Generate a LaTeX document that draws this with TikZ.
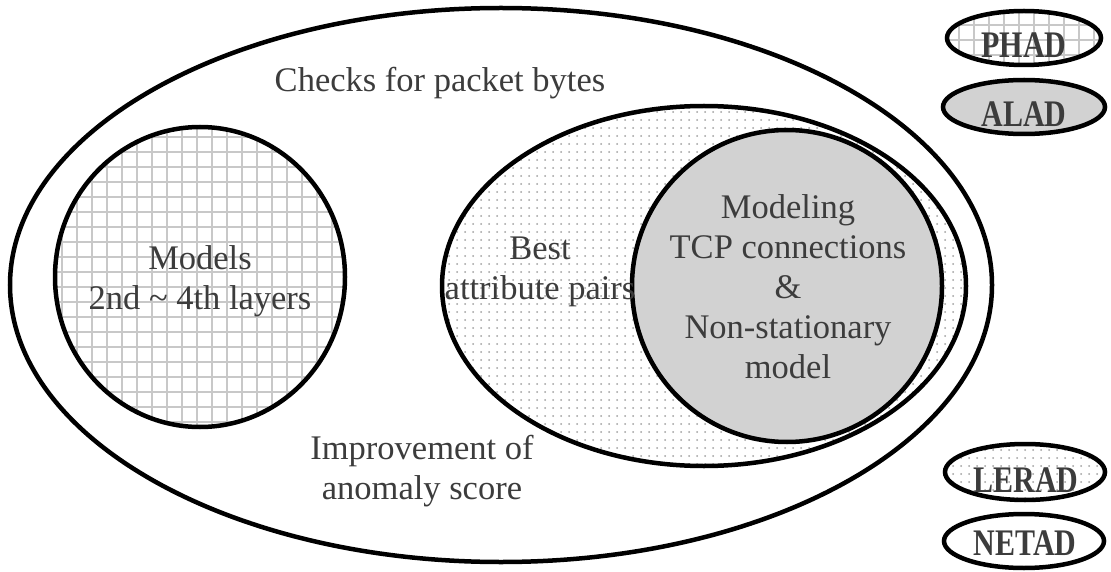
\documentclass[tikz,border=0pt]{standalone}
\usepackage{fontspec}
\setmainfont{Liberation Serif}
\usepackage{graphicx}
\definecolor{txt}{RGB}{60,60,60}
\definecolor{gridc}{RGB}{200,200,200}
\definecolor{dotc}{RGB}{160,160,160}
\definecolor{grayfill}{RGB}{210,210,210}
\begin{document}
\begin{tikzpicture}[x=1pt,y=-1pt,
  ring/.style={draw=black,line width=4.5pt},
  body/.style={text=txt,font=\fontsize{34.5}{40}\selectfont,inner sep=0pt,align=center},
  lab/.style={text=txt,font=\fontsize{30}{36}\selectfont\bfseries,inner sep=0pt,anchor=base},
  gridline/.style={draw=gridc,line width=1.2pt},
  dotmark/.style={fill=dotc}
]
\useasboundingbox (0,0) rectangle (1111,572);

% ---------- outer ellipse (NETAD) ----------
\fill[white] (501,285) ellipse [x radius=491pt, y radius=277pt];

% ---------- grid circle (PHAD) ----------
\begin{scope}
  \clip (200,277) ellipse [x radius=145pt, y radius=150pt];
  \foreach \x in {47,62,...,362} \draw[gridline] (\x,120) -- (\x,435);
  \foreach \y in {122,137,...,437} \draw[gridline] (50,\y) -- (350,\y);
\end{scope}

% ---------- dotted ellipse (LERAD) ----------
\begin{scope}
  \clip (704,286) ellipse [x radius=262pt, y radius=180pt];
  \foreach \x in {441,449,...,969} \foreach \y in {104,112,...,470} \fill[dotmark] (\x,\y) circle [radius=1pt];
\end{scope}

% ---------- gray circle (ALAD) ----------
\fill[grayfill] (787,286) ellipse [x radius=155pt, y radius=156pt];

% ---------- strokes ----------
\draw[ring] (501,285) ellipse [x radius=491pt, y radius=277pt];
\draw[ring] (200,277) ellipse [x radius=145pt, y radius=150pt];
\draw[ring] (704,286) ellipse [x radius=262pt, y radius=180pt];
\draw[ring] (787,286) ellipse [x radius=155pt, y radius=156pt];

% ---------- texts ----------
\node[body,anchor=base] (checks) at (440,92) {Checks for packet bytes};
\node[body] (models) at (200,281) {Models\\2nd \textasciitilde\ 4th layers};
\node[body] (best) at (540,271.5) {Best\\attribute pairs};
\node[body] (tcp) at (788,287) {Modeling\\TCP connections\\\&\\Non-stationary\\model};
\node[body] (improve) at (422,471) {Improvement of\\anomaly score};

% ---------- legend ----------
% PHAD
\begin{scope}
  \clip (1024,38) ellipse [x radius=77pt, y radius=27pt];
  \fill[white] (940,5) rectangle (1110,75);
  \foreach \x in {944,959,...,1109} \draw[gridline] (\x,5) -- (\x,75);
  \foreach \y in {10,25,...,70} \draw[gridline] (940,\y) -- (1110,\y);
\end{scope}
\draw[ring] (1024,38) ellipse [x radius=77pt, y radius=27pt];
\node[lab] (phad) at (1024,58) {\scalebox{1}[1.25]{PHAD}};

% ALAD
\fill[grayfill] (1024,107) ellipse [x radius=81pt, y radius=27pt];
\draw[ring] (1024,107) ellipse [x radius=81pt, y radius=27pt];
\node[lab] (alad) at (1024,127) {\scalebox{1}[1.25]{ALAD}};

% LERAD
\begin{scope}
  \clip (1025,472) ellipse [x radius=80pt, y radius=28pt];
  \fill[white] (940,440) rectangle (1110,505);
  \foreach \x in {945,953,...,1109} \foreach \y in {442,450,...,504} \fill[dotmark] (\x,\y) circle [radius=1pt];
\end{scope}
\draw[ring] (1025,472) ellipse [x radius=80pt, y radius=28pt];
\node[lab] (lerad) at (1026,492) {\scalebox{1}[1.25]{LERAD}};

% NETAD
\fill[white] (1024,541) ellipse [x radius=80pt, y radius=27pt];
\draw[ring] (1024,541) ellipse [x radius=80pt, y radius=27pt];
\node[lab] (netad) at (1025,555) {\scalebox{1}[1.25]{NETAD}};
\end{tikzpicture}
\end{document}
